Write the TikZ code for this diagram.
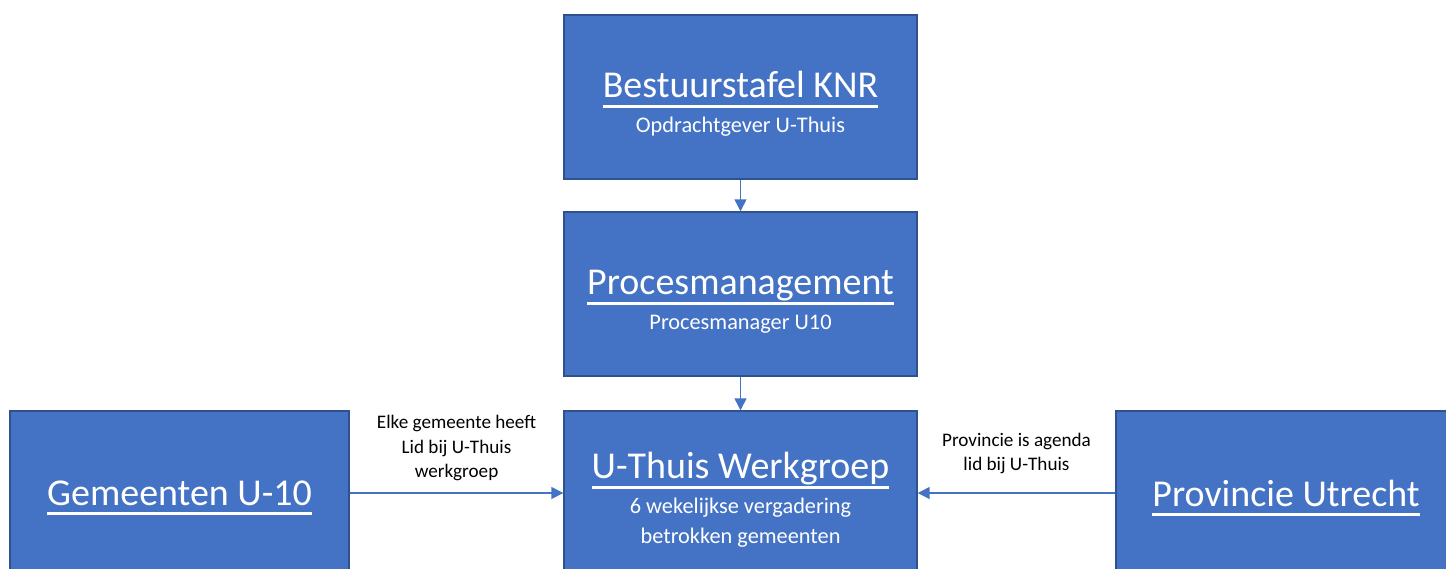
\documentclass[tikz,border=0pt]{standalone}
\usepackage{fontspec}
\setmainfont{Carlito}
\usetikzlibrary{arrows.meta}

\definecolor{blokblauw}{HTML}{4472C4}
\definecolor{randblauw}{HTML}{2F528F}

\newcommand{\ondstreep}[1]{\setbox0=\hbox{#1}\rlap{\smash{\rule[-0.2cm]{\wd0}{0.06cm}}}\box0}
\newcommand{\kop}{\fontsize{21.6pt}{26pt}\selectfont}
\newcommand{\kopregel}[1]{{\kop\rule{0pt}{0.8cm}\ondstreep{#1}}}

\tikzset{
    blok/.style={draw=randblauw, line width=0.85pt, fill=blokblauw, text=white,
        minimum height=3.28cm, align=center, inner sep=0pt,
        font=\fontsize{12.7pt}{17pt}\selectfont},
    pijl/.style={draw=blokblauw, line width=0.85pt, -{Triangle[length=0.24cm,width=0.24cm]}},
    uitleg/.style={font=\fontsize{10.9pt}{14.2pt}\selectfont, align=center,
        inner sep=0pt}
}

\begin{document}
\begin{tikzpicture}[x=0.02cm,y=-0.02cm]
    \useasboundingbox (0,0) rectangle (1446,568);
    \node [blok, minimum width=7.06cm] (bestuur) at (740.5,97) {\kopregel{Bestuurstafel KNR}\\[3pt]Opdrachtgever U-Thuis};
    \node [blok, minimum width=7.06cm] (proces) at (740.5,294) {\kopregel{Procesmanagement}\\[3pt]Procesmanager U10};
    \node [blok, minimum width=7.06cm] (werkgroep) at (740.5,493) {\kopregel{U-Thuis Werkgroep}\\[3pt]6 wekelijkse vergadering\\betrokken gemeenten};
    \node [blok, minimum width=6.78cm] (gemeenten) at (179.5,493) {\kop\ondstreep{Gemeenten U-10}};
    \node [blok, minimum width=6.8cm] (provincie) at (1286,493) {\kop\ondstreep{Provincie Utrecht}};

    \draw [pijl] (bestuur) -- (proces);
    \draw [pijl] (proces) -- (werkgroep);
    \draw [pijl] (gemeenten) -- node [uitleg, above=0.22cm] {Elke gemeente heeft\\Lid bij U-Thuis\\werkgroep} (werkgroep);
    \draw [pijl] (provincie) -- node [uitleg, above=0.36cm] {Provincie is agenda\\lid bij U-Thuis} (werkgroep);
\end{tikzpicture}
\end{document}
